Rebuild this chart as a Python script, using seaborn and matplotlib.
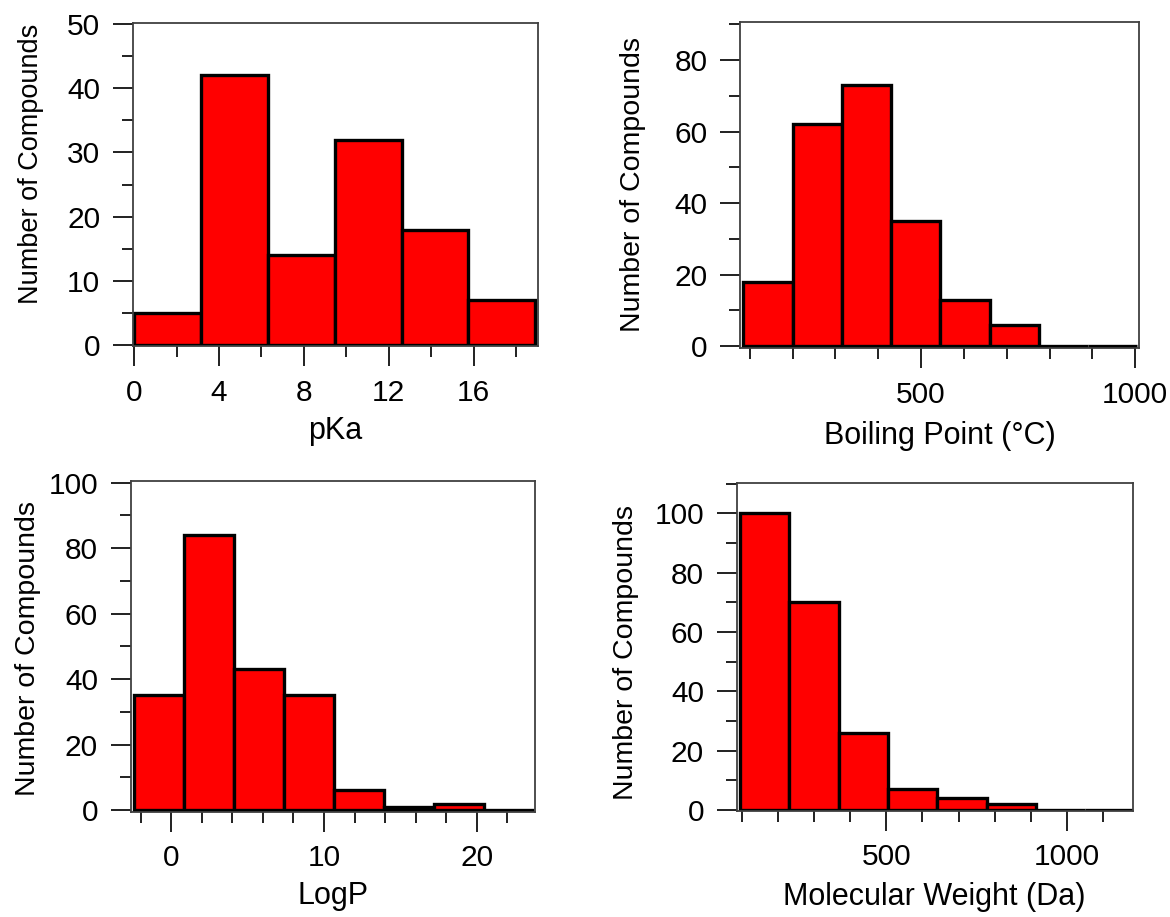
import matplotlib
matplotlib.use("Agg")
import matplotlib.pyplot as plt
from matplotlib.ticker import MultipleLocator
import seaborn as sns
import numpy as np
import pandas as pd

# ---------------- data ----------------
pka_edges = [0.0, 3.15, 6.3, 9.45, 12.6, 15.75, 18.9]
pka_counts = [5, 42, 14, 32, 18, 7]

bp_edges = [85, 200, 315, 430, 545, 660, 775, 890, 1005]
bp_counts = [18, 62, 73, 35, 13, 6, 0, 0]

logp_edges = [-2.42, 0.85, 4.12, 7.39, 10.66, 13.93, 17.2, 20.47, 23.74]
logp_counts = [35, 84, 43, 35, 6, 1, 2, 0]

mw_edges = [95, 231.5, 368, 504.5, 641, 777.5, 914, 1050.5, 1187]
mw_counts = [100, 70, 26, 7, 4, 2, 0, 0]

x_labels = ["pKa", "Boiling Point (\u00b0C)", "LogP", "Molecular Weight (Da)"]
y_label = "Number of Compounds"

sns.set_theme(style="white")
plt.rcParams['font.family'] = ['Liberation Sans', 'DejaVu Sans']

W, H = 1170, 917
fig = plt.figure(figsize=(W / 100, H / 100), dpi=100)

def add_ax(l, r, t, b):
    return fig.add_axes([l / W, 1 - b / H, (r - l) / W, (b - t) / H])

panels = [
    dict(box=(133, 537.5, 22.5, 346), edges=pka_edges, counts=pka_counts,
         xlim=(-0.05, 19.0), ylim=(-0.15, 50.25), xmaj=4, xmin=2, ymaj=10, ymin=5,
         xlabel=x_labels[0], ylab_x=30, ylab_y=164, ylab_fs=19.5, xlpad=7),
    dict(box=(740, 1139, 21.7, 348), edges=bp_edges, counts=bp_counts,
         xlim=(77, 1009), ylim=(-0.5, 90.7), xmaj=500, xmin=100, ymaj=20, ymin=10,
         xlabel=x_labels[1], ylab_x=632, ylab_y=184, ylab_fs=20.5, xlpad=9),
    dict(box=(130.7, 535.3, 480.7, 811.7), edges=logp_edges, counts=logp_counts,
         xlim=(-2.66, 23.84), ylim=(-0.5, 100.6), xmaj=10, xmin=2, ymaj=20, ymin=10,
         xlabel=x_labels[2], ylab_x=27, ylab_y=648, ylab_fs=20.5, xlpad=6),
    dict(box=(736.7, 1132.7, 482.7, 810.7), edges=mw_edges, counts=mw_counts,
         xlim=(86, 1182), ylim=(-0.2, 110.3), xmaj=500, xmin=100, ymaj=20, ymin=10,
         xlabel=x_labels[3], ylab_x=625, ylab_y=652, ylab_fs=20.5, xlpad=8),
]

for p in panels:
    ax = add_ax(*p["box"])
    l, r, t, b = p["box"]
    edges = [float(e) for e in p["edges"]]
    centers = [(a + c) / 2 for a, c in zip(edges[:-1], edges[1:])]
    df = pd.DataFrame({"value": centers, "count": [float(c) for c in p["counts"]]})
    sns.histplot(data=df, x="value", weights="count", bins=edges, ax=ax,
                 color="#ff0000", edgecolor="black", linewidth=2.4, alpha=1.0)
    ax.set_xlim(*p["xlim"])
    ax.set_ylim(*p["ylim"])
    ax.xaxis.set_major_locator(MultipleLocator(p["xmaj"]))
    ax.xaxis.set_minor_locator(MultipleLocator(p["xmin"]))
    ax.yaxis.set_major_locator(MultipleLocator(p["ymaj"]))
    ax.yaxis.set_minor_locator(MultipleLocator(p["ymin"]))
    for s in ax.spines.values():
        s.set_visible(True)
        s.set_color("#404040")
        s.set_linewidth(1.3)
    ax.tick_params(axis="both", which="major", direction="out", length=14.5,
                   width=1.4, color="#202020", labelsize=21.5, pad=9,
                   bottom=True, left=True, top=False, right=False, labelcolor="black")
    ax.tick_params(axis="both", which="minor", direction="out", length=7.7,
                   width=1.4, color="#202020",
                   bottom=True, left=True, top=False, right=False)
    ax.set_xlabel(p["xlabel"], fontsize=22, labelpad=p["xlpad"], color="black")
    ax.set_ylabel(y_label, fontsize=p["ylab_fs"], color="black")
    # place y label: right edge (text bottom side) at center + 14 px
    ax.yaxis.set_label_coords((p["ylab_x"] + 14 - l) / (r - l),
                              (b - p["ylab_y"]) / (b - t))
    ax.grid(False)

fig.savefig("out.png", dpi=100, facecolor="white")
